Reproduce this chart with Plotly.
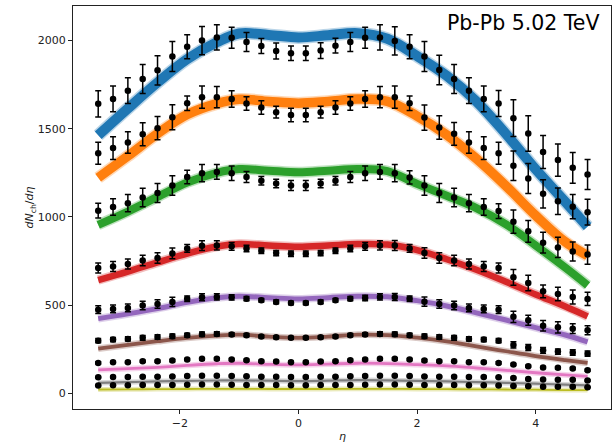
import plotly.graph_objects as go

# Pseudorapidity bin centres of the measured points
eta = [-3.375, -3.125, -2.875, -2.625, -2.375, -2.125, -1.875, -1.625, -1.375, -1.125,
       -0.875, -0.625, -0.375, -0.125, 0.125, 0.375, 0.625, 0.875, 1.125, 1.375,
       1.625, 1.875, 2.125, 2.375, 2.625, 2.875, 3.125, 3.375, 3.625, 3.875,
       4.125, 4.375, 4.625, 4.875]

# Measured dN_ch/deta per centrality class (most central first)
data_c0 = [1641, 1669, 1716, 1782, 1831, 1909, 1965, 2000, 2018, 2016, 1992, 1969, 1941, 1928,
           1928, 1943, 1971, 1992, 2016, 2018, 1998, 1965, 1909, 1833, 1782, 1716, 1669, 1643,
           1560, 1473, 1368, 1322, 1278, 1241]
data_c1 = [1361, 1390, 1422, 1469, 1503, 1565, 1645, 1679, 1679, 1669, 1643, 1620, 1594, 1578,
           1578, 1594, 1620, 1643, 1669, 1679, 1679, 1645, 1563, 1507, 1471, 1422, 1390, 1361,
           1290, 1218, 1131, 1089, 1058, 1027]
data_c2 = [1035, 1056, 1078, 1110, 1135, 1178, 1226, 1248, 1255, 1248, 1226, 1205, 1189, 1178,
           1178, 1189, 1205, 1226, 1248, 1255, 1248, 1224, 1178, 1135, 1110, 1078, 1056, 1033,
           973, 918, 854, 827, 804, 786]
data_c3 = [710, 719, 733, 753, 767, 793, 821, 837, 838, 833, 821, 808, 795, 791,
           791, 795, 808, 821, 833, 838, 838, 821, 795, 767, 753, 733, 719, 710,
           657, 625, 578, 563, 546, 535]
data_c4 = [474, 478, 484, 497, 506, 518, 536, 544, 546, 544, 536, 527, 518, 512,
           512, 518, 527, 536, 540, 546, 546, 536, 519, 506, 497, 484, 478, 474,
           433, 414, 383, 374, 366, 357]
data_c5 = [298, 304, 308, 314, 319, 323, 329, 334, 336, 333, 329, 321, 317, 314,
           314, 317, 321, 329, 333, 336, 334, 329, 323, 319, 314, 308, 304, 298,
           274, 259, 243, 236, 231, 224]
data_c6 = [172, 176, 176, 181, 181, 185, 191, 195, 195, 191, 187, 181, 180, 176,
           176, 180, 181, 187, 191, 195, 195, 191, 185, 181, 181, 176, 176, 172,
           163, 153, 146, 144, 140, 130]
data_c7 = [91, 92, 92, 93, 94, 95, 97, 99, 99, 98, 96, 94, 93, 92,
           92, 93, 94, 96, 98, 99, 99, 97, 95, 94, 93, 92, 92, 91,
           86, 80, 78, 77, 76, 72]
data_c8 = [44, 45, 45, 46, 46, 47, 48, 49, 49, 48, 47, 46, 46, 45,
           45, 46, 46, 47, 48, 49, 49, 48, 47, 46, 46, 45, 45, 44,
           41, 39, 37, 36, 36, 34]

# Total uncertainties on the measured points
err_c0 = [74, 73, 73, 82, 83, 85, 68, 80, 71, 59, 54, 42, 45, 41,
          41, 45, 42, 54, 59, 71, 80, 68, 85, 83, 82, 73, 73, 74,
          104, 101, 94, 92, 87, 85]
err_c1 = [62, 64, 61, 65, 66, 71, 41, 63, 60, 47, 38, 38, 33, 38,
          38, 33, 38, 38, 47, 60, 63, 41, 71, 66, 65, 61, 64, 62,
          83, 85, 80, 75, 69, 73]
err_c2 = [42, 47, 49, 52, 54, 55, 38, 49, 42, 41, 31, 24, 24, 28,
          28, 24, 24, 31, 41, 42, 49, 38, 55, 54, 52, 49, 47, 42,
          66, 62, 59, 58, 54, 55]
err_c3 = [28, 28, 28, 30, 30, 30, 22, 28, 26, 22, 18, 16, 15, 15,
          15, 15, 16, 18, 22, 26, 28, 22, 30, 30, 30, 28, 28, 28,
          44, 44, 36, 38, 40, 38]
err_c4 = [22, 22, 22, 24, 24, 26, 16, 20, 18, 15, 12, 10, 10, 10,
          10, 10, 10, 12, 15, 18, 20, 16, 26, 24, 24, 22, 22, 22,
          32, 28, 30, 32, 28, 26]
err_c5 = [12, 12, 12, 13, 13, 13, 11, 13, 12, 10, 9, 8, 8, 8,
          8, 8, 8, 9, 10, 12, 13, 11, 13, 13, 13, 12, 12, 12,
          18, 17, 16, 15, 15, 15]
err_c6 = [6] * 34
err_c7 = [4] * 34
err_c8 = [3] * 34

# Model curves, evaluated on a coarser eta grid
eta_model = [-3.375, -2.875, -2.375, -1.875, -1.375, -1.0, -0.5, 0.0, 0.5, 1.0,
             1.5, 2.0, 2.5, 3.0, 3.5, 4.0, 4.5, 4.875]
model_c0 = [1463, 1615, 1762, 1895, 1990, 2040, 2032, 2018, 2030, 2042,
            2010, 1912, 1800, 1655, 1470, 1270, 1085, 945]
model_c1 = [1222, 1345, 1472, 1580, 1642, 1667, 1655, 1645, 1655, 1668,
            1655, 1572, 1465, 1330, 1175, 1008, 858, 780]
model_c2 = [955, 1030, 1113, 1195, 1250, 1271, 1262, 1253, 1262, 1272,
            1260, 1187, 1120, 1050, 958, 838, 712, 612]
model_c3 = [642, 690, 742, 792, 832, 846, 838, 831, 838, 846,
            843, 812, 760, 700, 632, 560, 492, 436]
model_c4 = [423, 450, 480, 515, 542, 550, 542, 535, 542, 550,
            547, 525, 495, 456, 415, 372, 330, 291]
model_c5 = [253, 274, 295, 314, 327, 332, 321, 314, 321, 332,
            330, 315, 294, 266, 238, 211, 188, 172]
model_c6 = [132, 139, 147, 158, 167, 170, 164, 161, 165, 170,
            168, 162, 155, 143, 130, 116, 104, 95]
model_c7 = [59, 63, 67, 70, 72, 73, 71, 69, 71, 74,
            73, 70, 67, 63, 59, 54, 49, 44]
model_c8 = [21, 22, 23, 24, 25, 25, 24, 24, 24, 25,
            25, 24, 23, 22, 21, 20, 18, 17]

data_sets = [data_c0, data_c1, data_c2, data_c3, data_c4, data_c5, data_c6, data_c7, data_c8]
err_sets = [err_c0, err_c1, err_c2, err_c3, err_c4, err_c5, err_c6, err_c7, err_c8]
model_sets = [model_c0, model_c1, model_c2, model_c3, model_c4, model_c5, model_c6, model_c7, model_c8]

colors = ["#1f77b4", "#ff7f0e", "#2ca02c", "#d62728", "#9467bd",
          "#8c564b", "#e377c2", "#7f7f7f", "#bcbd22"]
band_widths = [10, 9.5, 8, 6.5, 5, 3.8, 2.8, 2.2, 1.8]

fig = go.Figure()

# Model bands: soft halo under a solid core
for ys, col, w in zip(model_sets, colors, band_widths):
    fig.add_trace(go.Scatter(x=eta_model, y=ys, mode="lines",
                             line=dict(color=col, width=w + 3, shape="spline", smoothing=1.0),
                             opacity=0.3, hoverinfo="skip", showlegend=False))
    fig.add_trace(go.Scatter(x=eta_model, y=ys, mode="lines",
                             line=dict(color=col, width=w, shape="spline", smoothing=1.0),
                             hoverinfo="skip", showlegend=False))

# Measured points with error bars
for ys, es in zip(data_sets, err_sets):
    fig.add_trace(go.Scatter(x=eta, y=ys, mode="markers",
                             marker=dict(color="black", size=6.5),
                             error_y=dict(type="data", array=es, color="black",
                                          thickness=1.5, width=3),
                             showlegend=False))

axis_common = dict(showgrid=False, zeroline=False, showline=True, mirror=True,
                   linecolor="#222222", linewidth=1, ticks="outside", ticklen=4,
                   tickwidth=1, tickcolor="#222222",
                   tickfont=dict(family="DejaVu Sans", size=11, color="#222222"))

fig.update_layout(
    width=616, height=443,
    margin=dict(l=73, r=5, t=6, b=33.5),
    paper_bgcolor="white", plot_bgcolor="white",
    xaxis=dict(range=[-3.80, 5.27], tickvals=[-2, 0, 2, 4], **axis_common),
    yaxis=dict(range=[-89.5, 2196], tickvals=[0, 500, 1000, 1500, 2000], **axis_common),
    annotations=[
        dict(text="Pb-Pb 5.02 TeV", xref="paper", yref="paper", x=0.983, y=0.958,
             xanchor="right", yanchor="middle", showarrow=False,
             font=dict(family="DejaVu Sans", size=20.5, color="black")),
        dict(text="<i>η</i>", xref="paper", yref="paper", x=0.5, y=-0.067,
             xanchor="center", yanchor="middle", showarrow=False,
             font=dict(family="DejaVu Sans", size=11, color="#222222")),
        dict(text="<i>dN</i><sub>ch</sub>/<i>dη</i>", xref="paper", yref="paper",
             x=-0.08, y=0.5, xanchor="center", yanchor="middle", textangle=-90,
             showarrow=False, font=dict(family="DejaVu Sans", size=11, color="#222222")),
    ],
)

fig.write_html("out.html")
